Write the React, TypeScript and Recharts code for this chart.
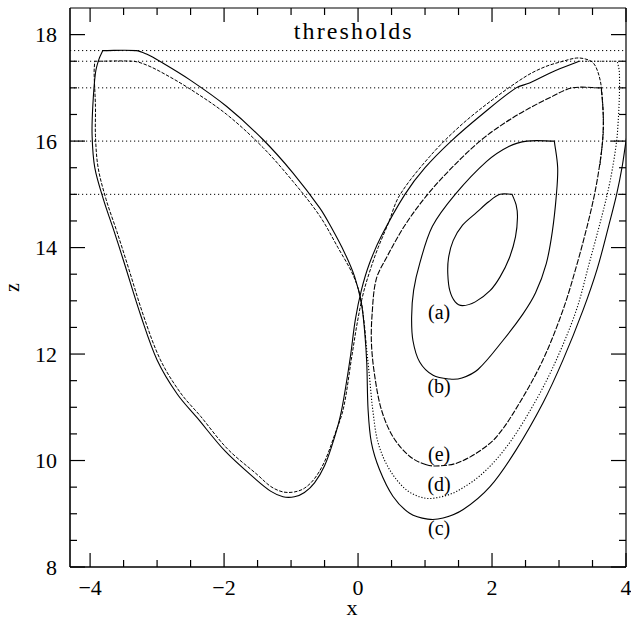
import React from 'react';
import { LineChart, Line, XAxis, YAxis, ReferenceLine, ReferenceDot } from 'recharts';

type P = { x: number; z: number };

const thresholds = [17.7, 17.5, 17, 16, 15];
const xTicks = [-4, -3.5, -3, -2.5, -2, -1.5, -1, -0.5, 0, 0.5, 1, 1.5, 2, 2.5, 3, 3.5, 4];
const yTicks = [8, 8.5, 9, 9.5, 10, 10.5, 11, 11.5, 12, 12.5, 13, 13.5, 14, 14.5, 15, 15.5, 16, 16.5, 17, 17.5, 18];
const curveLabels = [
  { text: '(a)', x: 1.21, z: 12.66 },
  { text: '(b)', x: 1.21, z: 11.26 },
  { text: '(e)', x: 1.21, z: 9.99 },
  { text: '(d)', x: 1.21, z: 9.43 },
  { text: '(c)', x: 1.21, z: 8.61 },
];

const loopA: P[] = [
  { x: 2.12, z: 15 }, { x: 2.3, z: 15 }, { x: 2.36, z: 14.8 }, { x: 2.38, z: 14.57 }, { x: 2.35, z: 14.2 },
  { x: 2.26, z: 13.81 }, { x: 2.12, z: 13.45 }, { x: 1.97, z: 13.19 }, { x: 1.75, z: 12.98 }, { x: 1.56, z: 12.91 },
  { x: 1.45, z: 12.98 }, { x: 1.37, z: 13.19 }, { x: 1.34, z: 13.5 }, { x: 1.35, z: 13.8 }, { x: 1.42, z: 14.13 },
  { x: 1.56, z: 14.42 }, { x: 1.77, z: 14.66 }, { x: 1.95, z: 14.86 }, { x: 2.12, z: 15 },
];

const loopB: P[] = [
  { x: 2.52, z: 16 }, { x: 2.93, z: 16 }, { x: 2.98, z: 15.5 }, { x: 2.96, z: 14.98 }, { x: 2.9, z: 14.3 },
  { x: 2.81, z: 13.7 }, { x: 2.65, z: 13.15 }, { x: 2.46, z: 12.75 }, { x: 2.16, z: 12.25 }, { x: 1.79, z: 11.71 },
  { x: 1.55, z: 11.55 }, { x: 1.37, z: 11.53 }, { x: 1.12, z: 11.6 }, { x: 0.92, z: 11.85 }, { x: 0.82, z: 12.25 },
  { x: 0.8, z: 12.7 }, { x: 0.83, z: 13.2 }, { x: 0.92, z: 13.7 }, { x: 1.11, z: 14.4 }, { x: 1.45, z: 15.0 },
  { x: 1.92, z: 15.62 }, { x: 2.25, z: 15.9 }, { x: 2.52, z: 16 },
];

const loopE: P[] = [
  { x: 1.02, z: 9.92 }, { x: 0.77, z: 10.08 }, { x: 0.52, z: 10.45 }, { x: 0.35, z: 10.95 }, { x: 0.25, z: 11.58 },
  { x: 0.2, z: 12.2 }, { x: 0.21, z: 12.75 }, { x: 0.27, z: 13.4 }, { x: 0.42, z: 13.8 }, { x: 0.7, z: 14.42 },
  { x: 1.02, z: 14.97 }, { x: 1.4, z: 15.5 }, { x: 1.82, z: 16.0 }, { x: 2.2, z: 16.35 }, { x: 2.56, z: 16.62 },
  { x: 2.9, z: 16.84 }, { x: 3.2, z: 17.0 }, { x: 3.63, z: 17.0 }, { x: 3.66, z: 16.5 }, { x: 3.65, z: 16.0 },
  { x: 3.6, z: 15.5 }, { x: 3.53, z: 15.0 }, { x: 3.42, z: 14.4 }, { x: 3.26, z: 13.65 }, { x: 3.06, z: 12.83 },
  { x: 2.76, z: 11.89 }, { x: 2.41, z: 11.08 }, { x: 2.07, z: 10.45 }, { x: 1.77, z: 10.14 }, { x: 1.47, z: 9.95 },
  { x: 1.22, z: 9.9 }, { x: 1.02, z: 9.92 },
];

const orbitC: P[] = [
  { x: 4.3, z: 17.7 }, { x: 4.16, z: 17.2 }, { x: 4.08, z: 16.6 }, { x: 4.0, z: 16.0 }, { x: 3.94, z: 15.5 },
  { x: 3.86, z: 15.0 }, { x: 3.74, z: 14.4 }, { x: 3.57, z: 13.6 }, { x: 3.36, z: 12.83 }, { x: 3.06, z: 11.89 },
  { x: 2.76, z: 11.08 }, { x: 2.36, z: 10.2 }, { x: 1.97, z: 9.51 }, { x: 1.57, z: 9.08 }, { x: 1.27, z: 8.92 },
  { x: 1.04, z: 8.9 }, { x: 0.77, z: 9.01 }, { x: 0.52, z: 9.33 }, { x: 0.32, z: 9.83 }, { x: 0.2, z: 10.33 },
  { x: 0.15, z: 10.95 }, { x: 0.13, z: 11.83 }, { x: 0.1, z: 12.4 }, { x: 0.05, z: 12.95 }, { x: -0.05, z: 13.45 },
  { x: -0.2, z: 13.9 }, { x: -0.4, z: 14.38 }, { x: -0.57, z: 14.74 }, { x: -0.97, z: 15.4 }, { x: -1.42, z: 16.03 },
  { x: -1.96, z: 16.65 }, { x: -2.51, z: 17.15 }, { x: -2.96, z: 17.5 }, { x: -3.15, z: 17.63 }, { x: -3.31, z: 17.7 },
  { x: -3.81, z: 17.7 }, { x: -3.87, z: 17.53 }, { x: -3.92, z: 17.28 }, { x: -3.96, z: 16.65 }, { x: -3.97, z: 16.1 },
  { x: -3.93, z: 15.5 }, { x: -3.8, z: 14.9 }, { x: -3.64, z: 14.3 }, { x: -3.49, z: 13.71 }, { x: -3.24, z: 12.71 },
  { x: -3.0, z: 11.89 }, { x: -2.7, z: 11.25 }, { x: -2.4, z: 10.8 }, { x: -1.98, z: 10.17 }, { x: -1.53, z: 9.65 },
  { x: -1.3, z: 9.42 }, { x: -1.12, z: 9.32 }, { x: -0.95, z: 9.32 }, { x: -0.8, z: 9.4 }, { x: -0.65, z: 9.58 },
  { x: -0.5, z: 9.9 }, { x: -0.36, z: 10.4 }, { x: -0.25, z: 10.92 }, { x: -0.12, z: 11.9 }, { x: -0.04, z: 12.65 },
  { x: 0.05, z: 13.2 }, { x: 0.17, z: 13.7 }, { x: 0.35, z: 14.22 }, { x: 0.7, z: 15.0 }, { x: 1.0, z: 15.5 },
  { x: 1.39, z: 16.0 }, { x: 1.85, z: 16.5 }, { x: 2.36, z: 17.0 }, { x: 2.56, z: 17.09 }, { x: 2.9, z: 17.3 },
  { x: 3.3, z: 17.5 },
];

const orbitDRight: P[] = [
  { x: 3.3, z: 17.5 }, { x: 3.87, z: 17.5 }, { x: 3.9, z: 17.3 }, { x: 3.9, z: 16.8 }, { x: 3.88, z: 16.3 },
  { x: 3.86, z: 16.0 }, { x: 3.8, z: 15.5 }, { x: 3.72, z: 15.0 }, { x: 3.6, z: 14.4 }, { x: 3.45, z: 13.7 },
  { x: 3.26, z: 12.83 }, { x: 2.96, z: 11.89 }, { x: 2.66, z: 11.14 }, { x: 2.26, z: 10.33 }, { x: 1.87, z: 9.77 },
  { x: 1.47, z: 9.42 }, { x: 1.17, z: 9.3 }, { x: 0.97, z: 9.3 }, { x: 0.72, z: 9.45 }, { x: 0.47, z: 9.83 },
  { x: 0.3, z: 10.33 }, { x: 0.22, z: 10.95 }, { x: 0.17, z: 11.58 }, { x: 0.12, z: 12.2 },
];

const orbitDLeft: P[] = [
  { x: 0.12, z: 12.2 }, { x: 0.09, z: 12.6 }, { x: 0.03, z: 13.1 }, { x: -0.08, z: 13.5 }, { x: -0.3, z: 14.0 },
  { x: -0.57, z: 14.59 }, { x: -0.97, z: 15.24 }, { x: -1.42, z: 15.88 }, { x: -1.96, z: 16.5 }, { x: -2.51, z: 16.98 },
  { x: -2.96, z: 17.31 }, { x: -3.2, z: 17.45 }, { x: -3.36, z: 17.5 }, { x: -3.93, z: 17.5 }, { x: -3.94, z: 17.3 },
  { x: -3.92, z: 16.65 }, { x: -3.92, z: 16.1 }, { x: -3.88, z: 15.5 }, { x: -3.76, z: 14.9 }, { x: -3.6, z: 14.3 },
  { x: -3.45, z: 13.71 }, { x: -3.2, z: 12.71 }, { x: -2.95, z: 11.89 }, { x: -2.65, z: 11.27 }, { x: -2.35, z: 10.83 },
  { x: -1.95, z: 10.22 }, { x: -1.5, z: 9.73 }, { x: -1.3, z: 9.51 }, { x: -1.12, z: 9.41 }, { x: -0.95, z: 9.41 },
  { x: -0.8, z: 9.48 }, { x: -0.65, z: 9.66 }, { x: -0.5, z: 9.98 }, { x: -0.35, z: 10.48 }, { x: -0.22, z: 10.97 },
  { x: -0.1, z: 11.9 }, { x: -0.01, z: 12.6 }, { x: 0.08, z: 13.15 }, { x: 0.2, z: 13.65 }, { x: 0.3, z: 14.0 },
  { x: 0.45, z: 14.45 }, { x: 0.62, z: 14.98 }, { x: 1.07, z: 15.71 }, { x: 1.52, z: 16.28 }, { x: 2.01, z: 16.78 },
  { x: 2.51, z: 17.22 }, { x: 2.8, z: 17.4 }, { x: 3.06, z: 17.5 }, { x: 3.26, z: 17.56 }, { x: 3.4, z: 17.54 },
  { x: 3.51, z: 17.47 }, { x: 3.58, z: 17.3 }, { x: 3.63, z: 17.03 }, { x: 3.66, z: 16.5 }, { x: 3.66, z: 16.15 },
  { x: 3.61, z: 15.53 },
];

// Plot frame (svg coordinates) implied by the margins and axis sizes below.
const FRAME = { left: 70, top: 8, right: 626, bottom: 567 };

const FONT = '"Liberation Serif", "Times New Roman", serif';
const fmt = (v: number) => (v < 0 ? `\u2212${Math.abs(v)}` : `${v}`);

// Smooth curve through the points, keeping sharp corners where the path turns abruptly.
const smoothCurve: any = (context: any) => {
  let pts: number[][] = [];
  const norm = (a: number[], b: number[]) => {
    const dx = b[0] - a[0];
    const dy = b[1] - a[1];
    const l = Math.hypot(dx, dy) || 1;
    return [dx / l, dy / l];
  };
  const isCorner = (a: number[], b: number[], c: number[]) => {
    const u = norm(a, b);
    const w = norm(b, c);
    return u[0] * w[0] + u[1] * w[1] < 0.6;
  };
  return {
    areaStart() {},
    areaEnd() {},
    lineStart() {
      pts = [];
    },
    point(x: number, y: number) {
      pts.push([+x, +y]);
    },
    lineEnd() {
      const n = pts.length;
      if (!n) return;
      context.moveTo(pts[0][0], pts[0][1]);
      if (n === 1) return;
      const closed = n > 3 && Math.hypot(pts[0][0] - pts[n - 1][0], pts[0][1] - pts[n - 1][1]) < 0.5;
      const prev = (i: number) => (i > 0 ? pts[i - 1] : closed ? pts[n - 2] : pts[0]);
      const next = (i: number) => (i < n - 1 ? pts[i + 1] : closed ? pts[1] : pts[n - 1]);
      for (let i = 0; i < n - 1; i++) {
        const p1 = pts[i];
        const p2 = pts[i + 1];
        const p0 = prev(i);
        const p3 = next(i + 1);
        const d = Math.hypot(p2[0] - p1[0], p2[1] - p1[1]);
        const t1 = p0 === p1 || isCorner(p0, p1, p2) ? norm(p1, p2) : norm(p0, p2);
        const t2 = p3 === p2 || isCorner(p1, p2, p3) ? norm(p1, p2) : norm(p1, p3);
        context.bezierCurveTo(
          p1[0] + (t1[0] * d) / 3,
          p1[1] + (t1[1] * d) / 3,
          p2[0] - (t2[0] * d) / 3,
          p2[1] - (t2[1] * d) / 3,
          p2[0],
          p2[1],
        );
      }
    },
  };
};

const BottomTick = (p: any) => {
  const v = p.payload.value;
  const major = v % 2 === 0;
  const y = FRAME.bottom;
  return (
    <g>
      <line x1={p.x} x2={p.x} y1={y} y2={y - (major ? 14 : 7)} stroke="#000" strokeWidth={1.2} />
      {major && (
        <text x={p.x} y={y + 28} textAnchor="middle" fontFamily={FONT} fontSize={22} fill="#000">
          {fmt(v)}
        </text>
      )}
    </g>
  );
};

const TopTick = (p: any) => {
  const v = p.payload.value;
  const major = v % 2 === 0;
  const y = FRAME.top;
  return <line x1={p.x} x2={p.x} y1={y} y2={y + (major ? 14 : 7)} stroke="#000" strokeWidth={1.2} />;
};

const LeftTick = (p: any) => {
  const v = p.payload.value;
  const major = v % 2 === 0;
  const x = FRAME.left;
  return (
    <g>
      <line x1={x} x2={x + (major ? 15 : 7)} y1={p.y} y2={p.y} stroke="#000" strokeWidth={1.2} />
      {major && (
        <text x={x - 13} y={p.y + 7.5} textAnchor="end" fontFamily={FONT} fontSize={22} fill="#000">
          {fmt(v)}
        </text>
      )}
    </g>
  );
};

const RightTick = (p: any) => {
  const v = p.payload.value;
  const major = v % 2 === 0;
  const x = FRAME.right;
  return <line x1={x} x2={x - (major ? 15 : 7)} y1={p.y} y2={p.y} stroke="#000" strokeWidth={1.2} />;
};

const textLabel = (text: string, size: number, width?: number) => (props: any) => {
  const vb = props.viewBox;
  return (
    <text
      x={vb.x}
      y={vb.y}
      textAnchor="middle"
      fontFamily={FONT}
      fontSize={size}
      fill="#000"
      {...(width ? { textLength: width, lengthAdjust: 'spacing' } : {})}
    >
      {text}
    </text>
  );
};

export default function App() {
  return (
    <div style={{ position: 'absolute', left: 0, top: 0 }}>
      <LineChart width={631} height={621} margin={{ top: 7, right: 4, bottom: 0, left: 0 }}>
        <XAxis
          xAxisId={0}
          type="number"
          dataKey="x"
          domain={[-4.3, 4]}
          allowDataOverflow
          ticks={xTicks}
          interval={0}
          tickSize={0}
          tickMargin={0}
          tickLine={false}
          tick={<BottomTick />}
          height={54}
          axisLine={{ stroke: '#000', strokeWidth: 1.6 }}
          label={(props: any) => {
            const vb = props.viewBox;
            return (
              <text x={vb.x + vb.width / 2 + 4} y={vb.y + 48} textAnchor="middle" fontFamily={FONT} fontSize={22} fill="#000">
                x
              </text>
            );
          }}
        />
        <XAxis
          xAxisId="top"
          orientation="top"
          type="number"
          dataKey="x"
          domain={[-4.3, 4]}
          allowDataOverflow
          ticks={xTicks}
          interval={0}
          tickSize={0}
          tickMargin={0}
          tickLine={false}
          tick={<TopTick />}
          height={1}
          axisLine={{ stroke: '#000', strokeWidth: 1.2 }}
        />
        <YAxis
          yAxisId={0}
          type="number"
          dataKey="z"
          domain={[8, 18.5]}
          allowDataOverflow
          ticks={yTicks}
          interval={0}
          tickSize={0}
          tickMargin={0}
          tickLine={false}
          tick={<LeftTick />}
          width={70}
          axisLine={{ stroke: '#000', strokeWidth: 1.6 }}
          label={(props: any) => {
            const vb = props.viewBox;
            const cy = vb.y + vb.height / 2;
            return (
              <text x={19} y={cy} textAnchor="middle" fontFamily={FONT} fontSize={20} fill="#000" transform={`rotate(-90 19 ${cy})`}>
                z
              </text>
            );
          }}
        />
        <YAxis
          yAxisId="right"
          orientation="right"
          type="number"
          domain={[8, 18.5]}
          allowDataOverflow
          ticks={yTicks}
          interval={0}
          tickSize={0}
          tickMargin={0}
          tickLine={false}
          tick={<RightTick />}
          width={1}
          axisLine={{ stroke: '#000', strokeWidth: 1.2 }}
        />
        {thresholds.map((t) => (
          <ReferenceLine key={t} y={t} stroke="#000" strokeWidth={1} strokeDasharray="1.2 2.8" />
        ))}
        <ReferenceDot x={-0.08} y={17.92} r={0} fill="none" stroke="none" label={textLabel('thresholds', 24, 118)} />
        {curveLabels.map((l) => (
          <ReferenceDot key={l.text} x={l.x} y={l.z} r={0} fill="none" stroke="none" label={textLabel(l.text, 20)} />
        ))}
        <Line data={orbitC} dataKey="z" type={smoothCurve} stroke="#000" strokeWidth={1.1} dot={false} isAnimationActive={false} />
        <Line data={orbitDRight} dataKey="z" type={smoothCurve} stroke="#000" strokeWidth={1.1} strokeDasharray="1.2 1.8" dot={false} isAnimationActive={false} />
        <Line data={orbitDLeft} dataKey="z" type={smoothCurve} stroke="#000" strokeWidth={1} strokeDasharray="3.5 1.5" dot={false} isAnimationActive={false} />
        <Line data={loopE} dataKey="z" type={smoothCurve} stroke="#000" strokeWidth={1.1} strokeDasharray="6 1.5" dot={false} isAnimationActive={false} />
        <Line data={loopB} dataKey="z" type={smoothCurve} stroke="#000" strokeWidth={1.1} dot={false} isAnimationActive={false} />
        <Line data={loopA} dataKey="z" type={smoothCurve} stroke="#000" strokeWidth={1.1} dot={false} isAnimationActive={false} />
      </LineChart>
    </div>
  );
}
